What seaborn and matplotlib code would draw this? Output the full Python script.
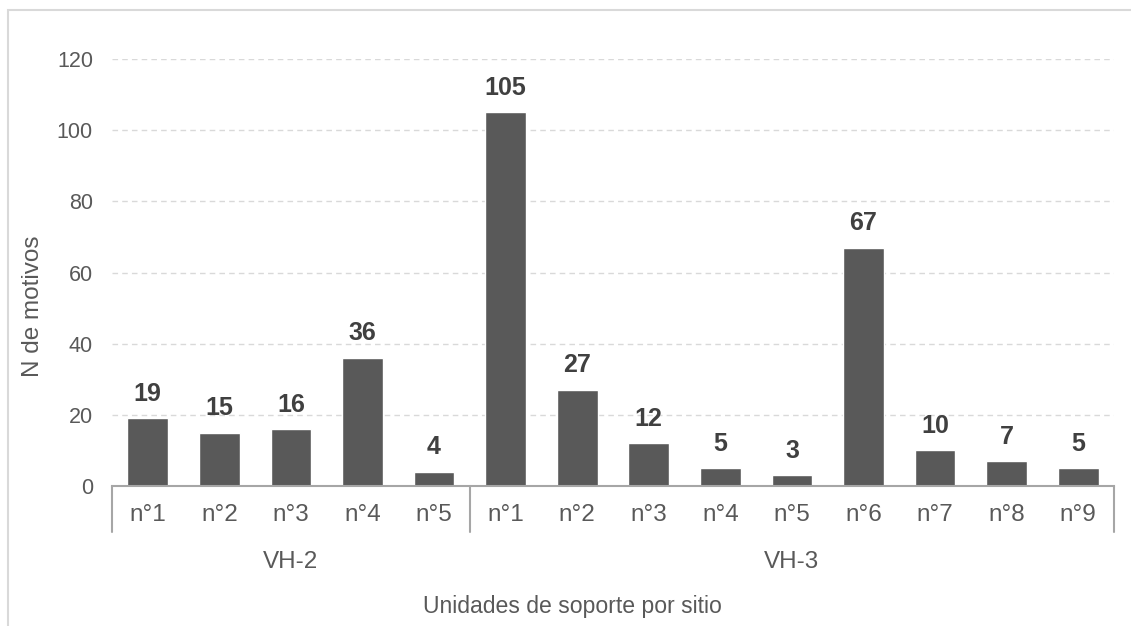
import matplotlib
matplotlib.use("Agg")
import matplotlib.pyplot as plt
import matplotlib.transforms as mtransforms
from matplotlib.patches import Rectangle
import pandas as pd
import seaborn as sns

# data
sites = ["VH-2", "VH-3"]
units_vh2 = ["n°1", "n°2", "n°3", "n°4", "n°5"]
units_vh3 = ["n°1", "n°2", "n°3", "n°4", "n°5", "n°6", "n°7", "n°8", "n°9"]
motifs_vh2 = [19, 15, 16, 36, 4]
motifs_vh3 = [105, 27, 12, 5, 3, 67, 10, 7, 5]

yticks = [0, 20, 40, 60, 80, 100, 120]

TEXT = "#595959"
BAR = "#595959"
AXIS = "#a6a6a6"
GRID = "#d9d9d9"

df = pd.DataFrame({
    "site": [sites[0]] * len(units_vh2) + [sites[1]] * len(units_vh3),
    "unit": units_vh2 + units_vh3,
    "n": motifs_vh2 + motifs_vh3,
})
df["pos"] = range(len(df))

sns.set_style("white")
plt.rcParams["font.family"] = ["Liberation Sans", "DejaVu Sans"]

fig = plt.figure(figsize=(11.31, 6.26), dpi=100)
ax = fig.add_axes([0.099, 0.2236, 0.886, 0.682])

# light frame around the chart area (only left/top inside the picture)
fig.patches.append(Rectangle((8 / 1131, -0.05), 1.2, 1 - 10 / 626 + 0.05,
                             transform=fig.transFigure, fill=False,
                             edgecolor="#d9d9d9", linewidth=1.5))

sns.barplot(data=df, x="pos", y="n", color=BAR, width=0.57,
            saturation=1, ax=ax, native_scale=True)

ax.set_xlim(-0.5, len(df) - 0.5)
ax.set_ylim(0, 120)
ax.set_yticks(yticks)
ax.yaxis.grid(True, color=GRID, linestyle=(0, (4, 3)), linewidth=1)
ax.set_axisbelow(True)
for s in ["top", "right", "left"]:
    ax.spines[s].set_visible(False)
ax.spines["bottom"].set_color(AXIS)
ax.spines["bottom"].set_linewidth(1.5)
ax.tick_params(axis="y", length=0, labelsize=15.5, labelcolor=TEXT, pad=13.7)
ax.set_xticks([])
ax.set_xlabel("")
ax.set_ylabel("")

# value labels
for p, v in zip(df["pos"], df["n"]):
    ax.annotate(str(v), (p, v), xytext=(0, 9), textcoords="offset points",
                ha="center", va="bottom", fontsize=18, fontweight="bold",
                color="#404040")

# category labels and group separators below the axis
trans = mtransforms.blended_transform_factory(ax.transData, ax.transAxes)
for p, u in zip(df["pos"], df["unit"]):
    ax.text(p, -0.068, u, transform=trans, ha="center", va="center",
            fontsize=17.5, color=TEXT)

sizes = [len(units_vh2), len(units_vh3)]
start = -0.5
edges = [start]
for s in sizes:
    start += s
    edges.append(start)
for e in edges:
    ax.plot([e, e], [0, -0.108], transform=trans, color=AXIS,
            linewidth=1.5, clip_on=False)
for i, site in enumerate(sites):
    mid = (edges[i] + edges[i + 1]) / 2
    ax.text(mid, -0.178, site, transform=trans, ha="center", va="center",
            fontsize=17.5, color=TEXT)

fig.text(33 / 1131, 1 - 306 / 626, "N de motivos", rotation=90,
         ha="center", va="center", fontsize=17.5, color=TEXT)
fig.text(572 / 1131, 1 - 607 / 626, "Unidades de soporte por sitio",
         ha="center", va="center", fontsize=16.6, color=TEXT)

fig.savefig("out.png", dpi=100)
